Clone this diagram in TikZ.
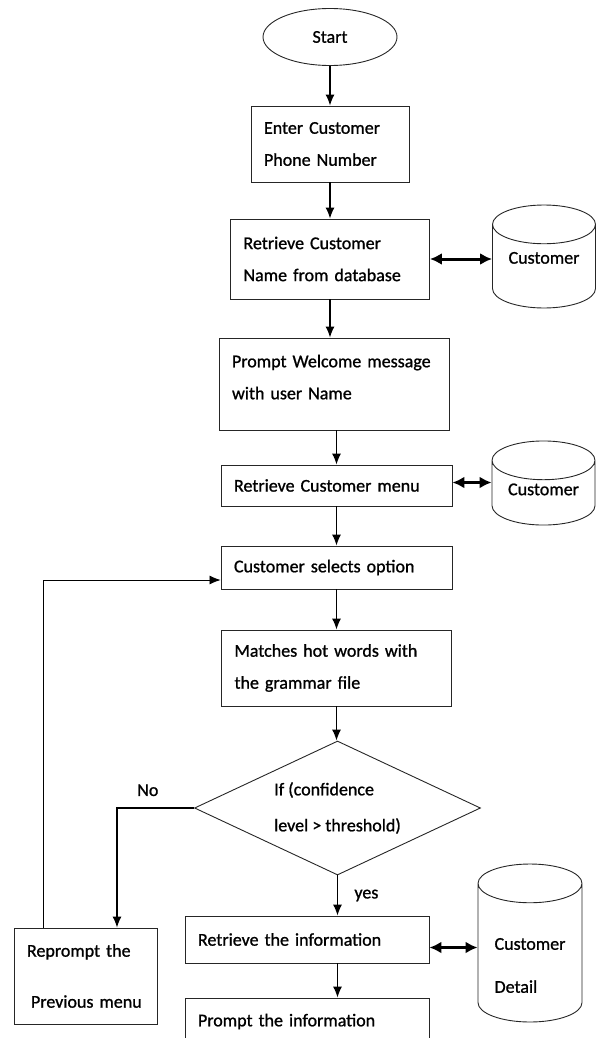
\documentclass[tikz,border=0pt]{standalone}
\usepackage{fontspec}
\setmainfont{Carlito}[RawFeature={embolden=1.0}]
\usepackage{tikz}
\usetikzlibrary{shapes.geometric, arrows, arrows.meta}
\usetikzlibrary{positioning}
\tikzstyle{startstop} = [ellipse, minimum width=134pt, minimum height=57pt, draw=black!85, line width=0.9pt]
\tikzstyle{process} = [rectangle, draw=black!85, line width=0.9pt, align=left, inner xsep=13pt]
\tikzstyle{decision} = [diamond, aspect=2.13, minimum width=286pt, minimum height=134pt, draw=black!85, line width=0.9pt, align=left]
\tikzstyle{database} = [cylinder, shape border rotate=90, aspect=0.5, draw=black!85, line width=0.9pt, align=left]
\tikzstyle{arrow} = [line width=1.2pt,->,>={Latex[length=11pt,width=9pt]}]
\tikzstyle{dblarrow} = [line width=3pt,<->,>={Latex[length=12pt,width=12pt]}]

\begin{document}
\begin{tikzpicture}[x=1pt, y=1pt, font=\fontsize{18}{32}\selectfont]
\useasboundingbox (0,0) rectangle (596,-1038);
\clip (0,0) rectangle (596,-1038);
\node (start) [startstop] at (330,-37) {Start};
\node (enter) [process, below of=start, node distance=107pt, text width=132pt, minimum height=76pt] {Enter Customer\\Phone Number};
\node (name) [process, below of=enter, node distance=115pt, text width=173pt, minimum height=80pt] {Retrieve Customer\\Name from database};
\node (welcome) [process, below of=name, node distance=125pt, xshift=4pt, text width=204pt, minimum height=92pt] {Prompt Welcome message\\with user Name\rule[-14pt]{0pt}{14pt}};
\node (menu) [process, below of=welcome, node distance=101.5pt, xshift=2.5pt, text width=205pt, minimum height=41pt] {Retrieve Customer menu};
\node (select) [process, below of=menu, node distance=82pt, text width=205pt, minimum height=43pt] {Customer selects option};
\node (matches) [process, below of=select, node distance=100.5pt, text width=204pt, minimum height=76pt] {Matches hot words with\\the grammar file};
\node (check) [decision, below of=matches, node distance=140pt, xshift=1pt] {If (confidence\\[4pt]level > threshold)};
\node (retinfo) [process, below of=check, node distance=131.5pt, xshift=-30.5pt, text width=218pt, minimum height=47pt] {Retrieve the information};
\node (prompt) [process, below of=retinfo, node distance=82pt, text width=218pt, minimum height=47pt] {Prompt the information};
\node (reprompt) [process, left of=retinfo, node distance=221.5pt, yshift=-36.5pt, text width=117pt, minimum height=96pt, inner xsep=13pt] {Reprompt the\\[19pt]\hspace{4pt}Previous menu};
\node (custdb) [database, right of=name, node distance=214pt, yshift=2.5pt, anchor=shape center, minimum width=103pt, minimum height=103pt] {Customer\rule[-24pt]{0pt}{24pt}};
\node (menudb) [database, right of=menu, node distance=207pt, yshift=2.5pt, anchor=shape center, minimum width=103pt, minimum height=70pt] {Customer\rule[-14pt]{0pt}{14pt}};
\node (detaildb) [database, right of=retinfo, node distance=223pt, yshift=-3.5pt, anchor=shape center, minimum width=104pt, minimum height=158pt] {\rule{0pt}{30pt}Customer\\[11pt]Detail};

\draw [arrow] (start) -- (enter);
\draw [arrow] (enter) -- (enter.south |- name.north);
\draw [arrow] (name.south) -- (name.south |- welcome.north);
\draw [arrow] (menu.north |- welcome.south) -- (menu);
\draw [arrow] (menu) -- (select);
\draw [arrow] (select) -- (matches);
\draw [arrow] (matches.south) -- (matches.south |- check.north);
\draw [arrow] (check.south) -- node[right=13pt] {yes} (check.south |- retinfo.north);
\draw [arrow] (retinfo.south -| check.south) -- (prompt.north -| check.south);
\draw [arrow] (check.west) -| node[pos=0.3, above=8pt] {No} ([xshift=31.5pt]reprompt.north);
\draw [arrow, line width=0.8pt] ([xshift=30pt]reprompt.north west) |- ([yshift=-12.5pt]select.west);
\draw [dblarrow] (name.east) -- (name.east -| custdb.180);
\draw [dblarrow] ([yshift=3pt]menu.east) -- ([yshift=3pt]menu.east -| menudb.180);
\draw [dblarrow] ([yshift=-8pt]retinfo.east) -- ([yshift=-8pt]retinfo.east -| detaildb.180);
\end{tikzpicture}
\end{document}
